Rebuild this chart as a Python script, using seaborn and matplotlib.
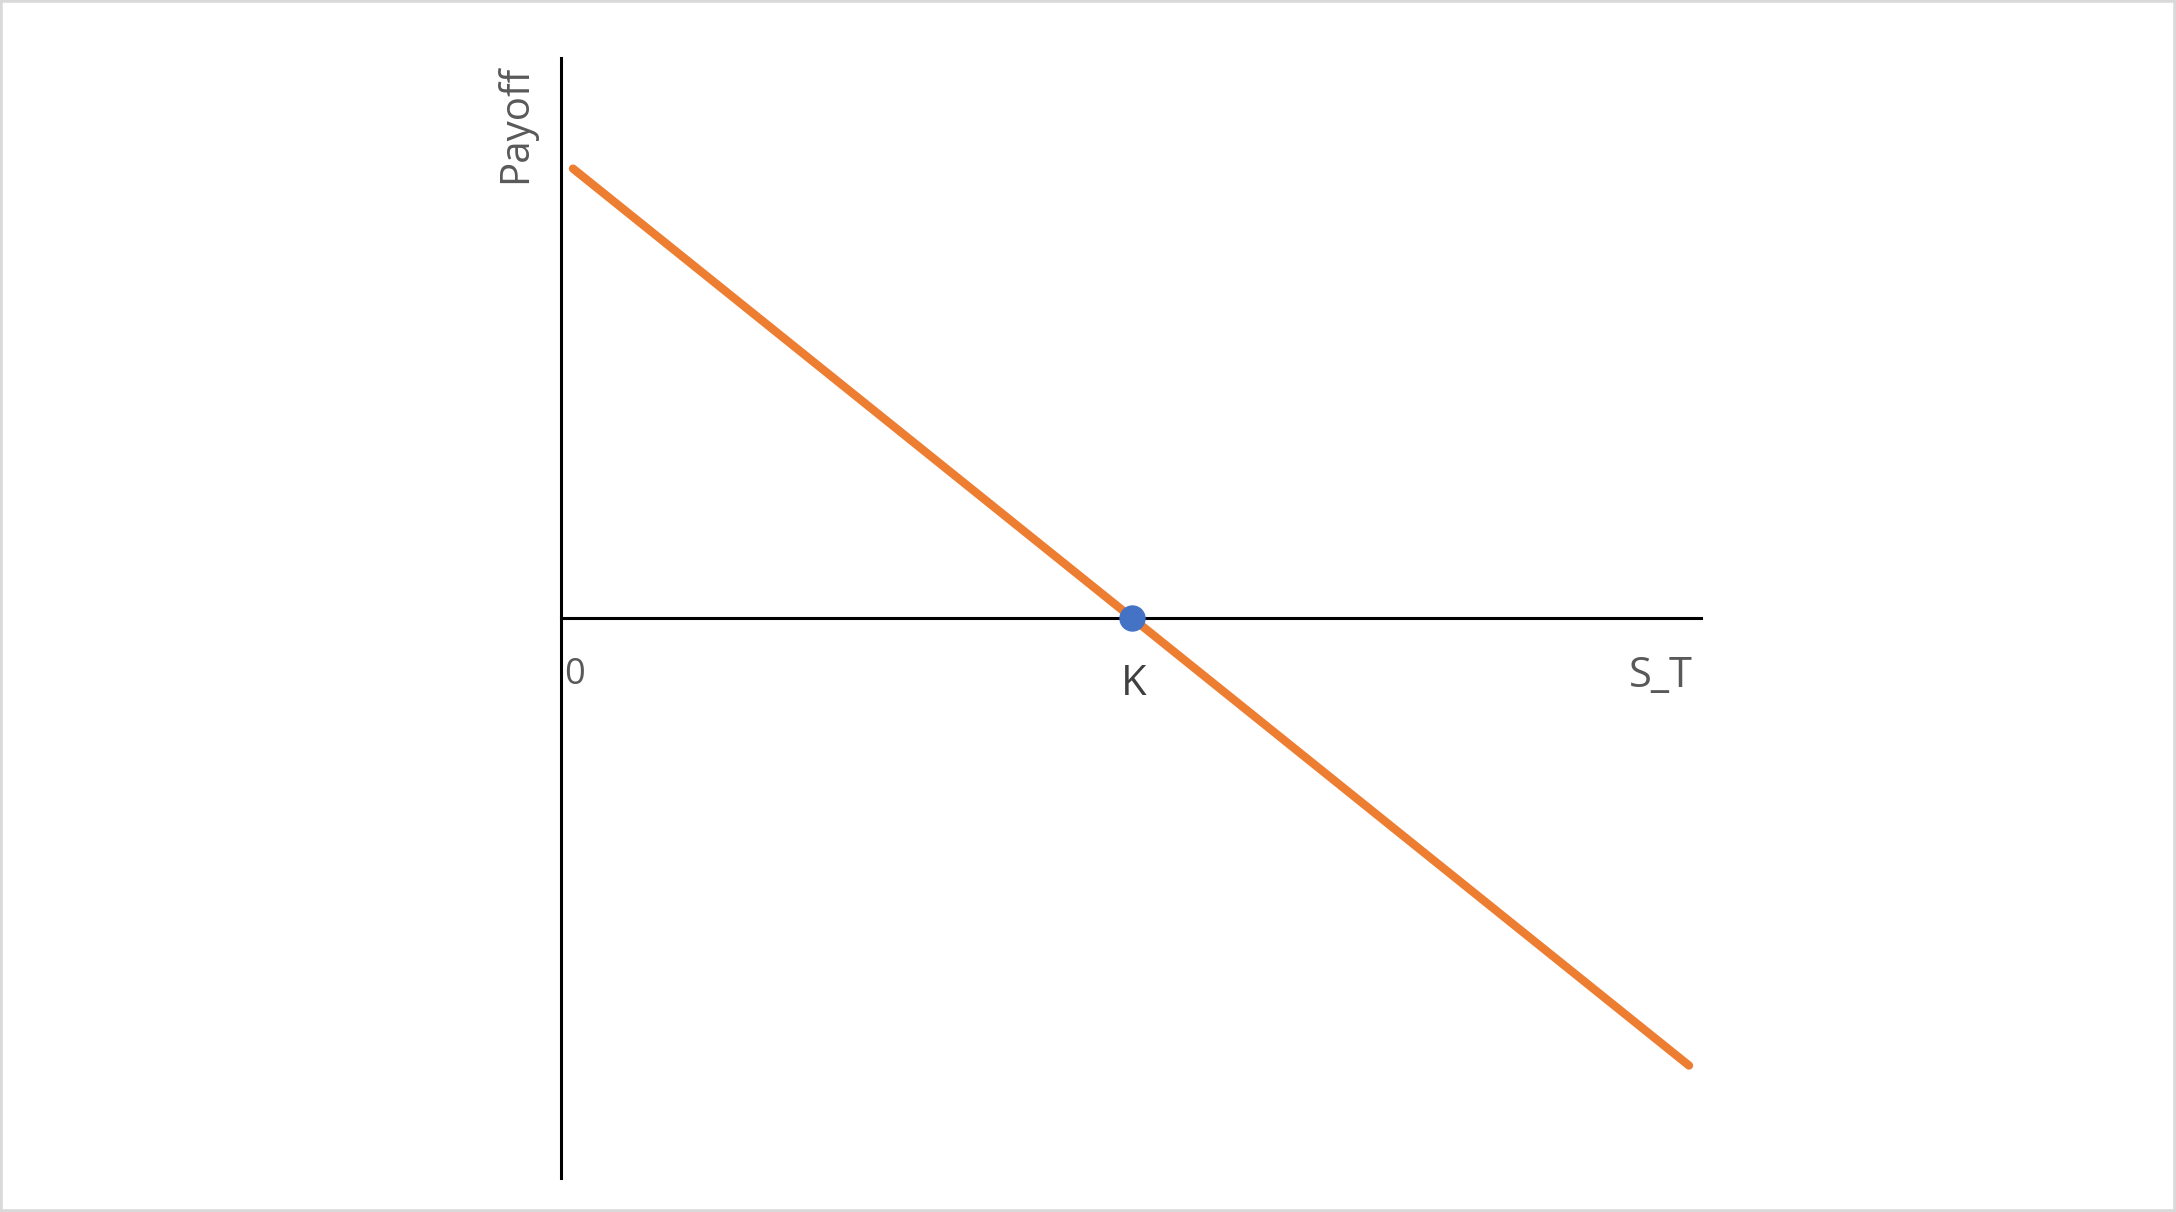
import matplotlib
matplotlib.use("Agg")
import matplotlib.pyplot as plt
import seaborn as sns
import pandas as pd
from matplotlib.patches import Rectangle

# short forward payoff: K - S_T
strike = 100
spot = [2.1, 100, 197.5]
payoff = [strike - s for s in spot]

sns.set_style("white")
plt.rcParams["font.family"] = ["Open Sans", "DejaVu Sans"]

W, H = 2176, 1212
fig = plt.figure(figsize=(W / 100, H / 100), dpi=100)
# axes box: vertical axis from y=58 to 1178 px, x from 561 to 1701 px
ax = fig.add_axes([561 / W, 1 - 1178 / H, (1701 - 561) / W, (1178 - 58) / H])

df = pd.DataFrame({"S_T": spot, "Payoff": payoff})
sns.lineplot(data=df, x="S_T", y="Payoff", ax=ax, color="#ED7D31",
             linewidth=6, solid_capstyle="round", zorder=3)
ax.plot([strike], [0], "o", color="#4472C4", markersize=18, zorder=4)

ax.set_xlim(0, 199.6)
ax.set_ylim(-122, 122)
ax.set_xticks([])
ax.set_yticks([])
ax.set_xlabel("")
ax.set_ylabel("")
for side in ["top", "right"]:
    ax.spines[side].set_visible(False)
for side in ["left", "bottom"]:
    ax.spines[side].set_linewidth(2.2)
    ax.spines[side].set_color("black")
ax.spines["bottom"].set_position(("data", 0))

txt = "#595959"
ax.text(2.45, -12.4, "0", fontsize=26, color=txt, ha="center", va="center")
ax.text(100.2, -14.3, "K", fontsize=30, color="#404040", ha="center", va="center")
ax.text(192.6, -12.6, "S_T", fontsize=30, color=txt, ha="center", va="center")
ax.text(-7.9, 107.6, "Payoff", fontsize=29, color=txt, ha="center", va="center",
        rotation=90, clip_on=False)

fig.patches.append(Rectangle((0, 0), 1, 1, transform=fig.transFigure, fill=False,
                             edgecolor="#d9d9d9", linewidth=4, zorder=10))

fig.savefig("out.png", dpi=100)
